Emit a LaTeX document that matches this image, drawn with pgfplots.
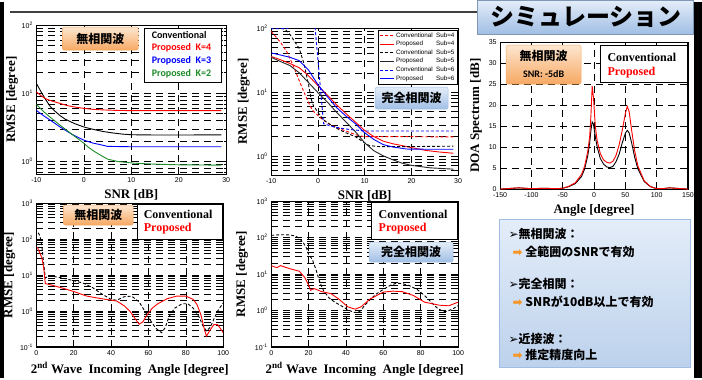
\documentclass[border=0pt]{standalone}
\usepackage{pgfplots}
\pgfplotsset{compat=1.18}
\usepackage{fontspec}
\setmainfont{Liberation Serif}
\newfontfamily\lsans{Liberation Sans}
\newfontfamily\carl{Carlito}
\newfontfamily\jp{Noto Sans CJK JP}
\newfontfamily\dvs{DejaVu Sans}
\definecolor{myred}{RGB}{255,0,0}
\definecolor{mygreen}{RGB}{30,140,40}
\definecolor{myblue}{RGB}{0,0,255}
\definecolor{orT}{RGB}{253,230,208}
\definecolor{orB}{RGB}{247,168,98}
\definecolor{blT}{RGB}{228,237,249}
\definecolor{blB}{RGB}{160,190,228}
\definecolor{arrowor}{RGB}{246,150,40}
\pgfplotsset{
  mystyle/.style={scale only axis, axis line style={line width=1.1pt},
    tick style={black, line width=0.6pt}, major tick length=3pt, minor tick length=2pt,
    tick label style={font=\lsans\fontsize{7}{8}\selectfont},
    /pgf/number format/assume math mode=true,
    grid style={black, line width=0.6pt, dash pattern=on 7pt off 5pt},
    minor grid style={black, line width=0.6pt, dash pattern=on 7pt off 5pt},
    label style={font=\bfseries\fontsize{13}{14}\selectfont},
    every axis plot/.append style={line width=0.9pt, mark=none}},
}
\begin{document}
\begin{tikzpicture}
\begin{scope}[x=1pt,y=1pt]
\fill[white] (0,0) rectangle (702,376);
\useasboundingbox (0,0) rectangle (702,376);
\fill[black] (0,0) rectangle (4,376);
\fill[black] (694,0) rectangle (702,376);
\draw[line width=2pt, black!75] (10,366) -- (477,366);
\end{scope}

% Panel 1
\begin{axis}[mystyle, ymode=log, ymajorgrids, yminorgrids, xmajorgrids, at={(36pt,204pt)}, anchor=south west, width=190pt, height=149pt,
  xmin=-10, xmax=30, ymin=0.65, ymax=100, xtick={-10,0,10,20,30},
  ytick={1,10,100}, yticklabels={10\textsuperscript{0},10\textsuperscript{1},10\textsuperscript{2}},
  minor ytick={0.7,0.8,0.9,2,3,4,5,6,7,8,9,20,30,40,50,60,70,80,90},
  xlabel={SNR [dB]}, ylabel={RMSE [degree]}, ylabel style={yshift=-3pt}]
\addplot[black] coordinates {(-10,14) (-9,10.5) (-8,8) (-7,6.3) (-6,5.4) (-5,4.7) (-4,4.2) (-2,3.6) (0,3.2) (2,2.95) (4,2.75) (6,2.62) (8,2.52) (10,2.46) (15,2.44) (20,2.44) (29,2.45)};
\addplot[myred] coordinates {(-10,10.5) (-9,9.2) (-8,8.3) (-7,7.8) (-5,7.1) (-3.5,6.6) (-2,6.3) (0,6.0) (2,5.8) (4,5.7) (7,5.6) (10,5.56) (20,5.56) (29,5.56)};
\addplot[myblue] coordinates {(-10,5.6) (-8.5,4.7) (-7,4.0) (-5,3.2) (-2.5,2.5) (0,2.05) (2,1.85) (3.5,1.76) (5,1.66) (10,1.64) (20,1.64) (29,1.64)};
\addplot[mygreen] coordinates {(-10,6.9) (-8.5,5.4) (-7,4.4) (-5,3.4) (-2.5,2.5) (0,1.85) (1,1.6) (2.5,1.36) (4,1.18) (5,1.08) (7,1.0) (10.6,0.94) (15,0.91) (20,0.89) (29,0.88)};
\end{axis}

% Panel 2
\begin{axis}[mystyle, ymode=log, ymajorgrids, yminorgrids, xmajorgrids, at={(271pt,203pt)}, anchor=south west, width=187pt, height=147pt,
  xmin=-10, xmax=30, ymin=0.5, ymax=100, xtick={-10,0,10,20,30},
  ytick={1,10,100}, yticklabels={10\textsuperscript{0},10\textsuperscript{1},10\textsuperscript{2}},
  minor ytick={0.6,0.7,0.8,0.9,2,3,4,5,6,7,8,9,20,30,40,50,60,70,80,90},
  xlabel={SNR [dB]}, ylabel={RMSE [degree]},
  legend style={at={(0.997,0.99)}, anchor=north east, font=\lsans\fontsize{6.3}{7}\selectfont, inner sep=0.8pt, row sep=-1.5pt, draw=black, line width=0.6pt},
  legend cell align=left,
  legend image code/.code={\draw[#1, line width=0.9pt] (0pt,0pt) -- (14pt,0pt);}]
\addplot[myred, dash pattern=on 3pt off 2pt] coordinates {(-10,89) (-8,60) (-6.6,42) (-5,23) (-4,15) (-3,10) (-2,6.8) (-1.2,5.2) (0,4.3) (1,3.7) (2,3.3) (3,3.0) (4,2.8) (5,2.6) (6,2.45) (7,2.3) (8,2.15) (9,2.06) (10,2.0) (20,2.0) (29,1.98)};
\addlegendentry{\makebox[40pt][l]{Conventional}Sub=4}
\addplot[myred] coordinates {(-10,36) (-8,32) (-6,28) (-4,24) (-2,18) (0,12.6) (2,9) (4,6.3) (6,4.6) (8,3.4) (10,2.5) (12,2.0) (14,1.7) (16,1.55) (18,1.45) (20,1.35) (23,1.22) (26,1.15) (29,1.1)};
\addlegendentry{\makebox[40pt][l]{Proposed}Sub=4}
\addplot[black, dash pattern=on 3pt off 2pt] coordinates {(-10,100) (-8,100) (-7,96) (-6,80) (-5,62) (-4,48) (-3,28) (-2,13) (-1.5,8) (-1,6.2) (0,4.8) (1,3.8) (2,3.3) (4,2.7) (6,2.3) (8,2.0) (10,1.6) (11,1.45) (13,1.4) (20,1.4) (29,1.42)};
\addlegendentry{\makebox[40pt][l]{Conventional}Sub=5}
\addplot[black!85] coordinates {(-10,35) (-8,30) (-6,26) (-4,20) (-2,14) (0,9.8) (2,7) (4,4.8) (6,3.4) (8,2.4) (10,1.6) (12,1.2) (14,1.0) (16,0.87) (18,0.77) (20,0.71) (24,0.65) (29,0.62)};
\addlegendentry{\makebox[40pt][l]{Proposed}Sub=5}
\addplot[myblue, dash pattern=on 3pt off 2pt] coordinates {(-10,98) (-8,98) (-6,101) (-5,110) (-1,110) (-0.6,100) (1.2,3.2) (3,2.9) (5,2.7) (7,2.58) (9,2.5) (10,2.45) (20,2.45) (29,2.45)};
\addlegendentry{\makebox[40pt][l]{Conventional}Sub=6}
\addplot[myblue] coordinates {(-10,41) (-8,38) (-6,35) (-4,31) (-2,22) (0,13) (2,8.5) (4,5.7) (6,4.2) (8,3.2) (10,2.3) (12,1.8) (14,1.5) (16,1.38) (19,1.28) (24,1.27) (29,1.27)};
\addlegendentry{\makebox[40pt][l]{Proposed}Sub=6}
\end{axis}

% Panel 3
\begin{axis}[mystyle, ymode=log, ymajorgrids, yminorgrids, xmajorgrids, at={(36pt,31pt)}, anchor=south west, width=187pt, height=144pt,
  xmin=0, xmax=100, ymin=0.1, ymax=1000, xtick={0,20,40,60,80,100},
  ytick={0.1,1,10,100,1000}, yticklabels={10\textsuperscript{-1},10\textsuperscript{0},10\textsuperscript{1},10\textsuperscript{2},10\textsuperscript{3}},
  minor ytick={0.2,0.3,0.4,0.5,0.6,0.7,0.8,0.9,2,3,4,5,6,7,8,9,20,30,40,50,60,70,80,90,200,300,400,500,600,700,800,900},
  xlabel={2\textsuperscript{nd} Wave\ \ Incoming\ \ Angle [degree]}, ylabel={RMSE [degree]}, ylabel style={yshift=-2pt}]
\addplot[black, dash pattern=on 3pt off 2pt] coordinates {(1,150) (2,120) (3,60) (4,20) (4.8,8.3) (7,9.5) (12,8.7) (20,7) (25,6) (30,4.5) (35,3) (40,2.1) (43,2.0) (47,2.5) (51,2.6) (55,1.8) (58,1.0) (61,0.55) (64,0.33) (67,0.25) (69,0.35) (71,0.7) (74,1.2) (78,1.6) (81,1.6) (84,1.2) (87,0.7) (89,0.4) (91,0.28) (93,0.35) (95,0.6) (97,1.0) (100,1.7)};
\addplot[myred] coordinates {(0.5,60) (2,40) (3,30) (4,15) (4.8,5.8) (8,5.3) (11,4.8) (15,4.2) (20,3.5) (27,2.6) (35,2.2) (43,1.9) (47,1.4) (50,1.0) (53,0.6) (55,0.43) (57,0.5) (59,0.75) (62,1.2) (65,1.6) (70,2.2) (75,2.6) (80,2.6) (84,2.1) (86,1.5) (88,0.8) (90,0.3) (91,0.2) (93,0.3) (95,0.42) (97,0.42) (99,0.3) (100,0.25)};
\end{axis}

% Panel 4
\begin{axis}[mystyle, ymode=log, ymajorgrids, yminorgrids, xmajorgrids, at={(271pt,31pt)}, anchor=south west, width=187pt, height=146pt,
  xmin=0, xmax=100, ymin=0.1, ymax=1000, xtick={0,20,40,60,80,100},
  ytick={0.1,1,10,100,1000}, yticklabels={10\textsuperscript{-1},10\textsuperscript{0},10\textsuperscript{1},10\textsuperscript{2},10\textsuperscript{3}},
  minor ytick={0.2,0.3,0.4,0.5,0.6,0.7,0.8,0.9,2,3,4,5,6,7,8,9,20,30,40,50,60,70,80,90,200,300,400,500,600,700,800,900},
  xlabel={2\textsuperscript{nd} Wave\ \ Incoming\ \ Angle [degree]}, ylabel={RMSE [degree]}]
\addplot[black, dash pattern=on 3pt off 2pt] coordinates {(0,115) (5,120) (10,118) (13,110) (15,95) (17,75) (19,50) (20,35) (22,25) (24,13) (26,6) (28,3.5) (31,2.2) (34,1.7) (38,1.3) (41,1.05) (44,0.9) (46,0.88) (48,1.0) (50,1.4) (53,2.0) (56,2.8) (60,3.8) (64,5.0) (67,5.6) (70,5.5) (74,4.8) (78,3.8) (82,2.6) (86,1.6) (89,1.15) (92,0.95) (94,0.95) (97,1.1) (100,1.35)};
\addplot[myred] coordinates {(0,17) (3,15) (5,17) (10,14) (15,12) (18,8) (20,5) (21,3.6) (23,4) (27,3.3) (32,2.9) (36,2.1) (41,1.26) (45,1.09) (48,1.26) (53,2.1) (60,3.2) (65,3.4) (70,3.3) (76,2.6) (82,1.7) (90,1.4) (95,1.35) (100,1.7)};
\end{axis}

% Panel 5
\begin{axis}[mystyle, at={(500pt,189pt)}, anchor=south west, width=188pt, height=147pt,
  xmin=-150, xmax=150, ymin=0, ymax=35, xtick={-150,-100,...,150}, ytick={0,5,...,35},
  xmajorgrids, ymajorgrids,
  xlabel={Angle [degree]}, ylabel={DOA Spectrum [dB]}]
\addplot[black] coordinates {(-150,0) (-140,0.1) (-120,0.3) (-100,0.1) (-80,0.2) (-60,0.1) (-50,0.2) (-40,0.6) (-30,1.3) (-20,3) (-15,4.8) (-10,8) (-7,11) (-5,14) (-3,16) (-1,15.5) (2,12.5) (5,10) (10,7.3) (15,6) (20,5.3) (25,5.1) (30,5.4) (35,6.5) (40,8.3) (45,11) (50,13.3) (53,14) (56,13.4) (60,11) (65,7.5) (70,4.8) (80,1.8) (90,0.6) (100,0.1) (110,0.1) (120,0.3) (130,0.2) (150,0)};
\addplot[myred] coordinates {(-150,0) (-140,0.1) (-120,0.3) (-100,0.1) (-80,0.2) (-60,0.1) (-50,0.2) (-40,0.7) (-30,1.5) (-20,3.5) (-15,5.5) (-10,9) (-7,12.5) (-5,17.5) (-3,24.5) (-1,22) (2,15) (5,11.5) (10,8.5) (15,7) (20,6.4) (25,6.2) (30,6.6) (35,8) (40,10.5) (45,14) (50,18) (53,19.7) (56,18.5) (60,14) (65,9) (70,5.5) (80,2) (90,0.6) (100,0.1) (110,0.1) (120,0.3) (130,0.2) (150,0)};
\end{axis}

\begin{scope}[x=1pt,y=1pt]
% panel 1 overlays
\shade[top color=orT, bottom color=orB, rounded corners=2pt, draw=orB] (62,328) rectangle (138,351);
\node[font=\jp\bfseries\fontsize{12}{14}\selectfont] at (100,339.5) {無相関波};
\draw[fill=white, line width=0.6pt] (144,296) rectangle (221,350);
\node[anchor=west, font=\carl\bfseries\fontsize{10}{12}\selectfont] at (148,343) {Conventional};
\node[anchor=west, font=\carl\bfseries\fontsize{10}{12}\selectfont, text=myred] at (148,330) {Proposed\ \ K=4};
\node[anchor=west, font=\carl\bfseries\fontsize{10}{12}\selectfont, text=myblue] at (148,317) {Proposed\ \ K=3};
\node[anchor=west, font=\carl\bfseries\fontsize{10}{12}\selectfont, text=mygreen] at (148,304) {Proposed\ \ K=2};
% panel 2
\shade[top color=blT, bottom color=blB, rounded corners=2pt, draw=blB] (375,269) rectangle (448,291);
\node[font=\jp\bfseries\fontsize{12}{14}\selectfont] at (411.5,280) {完全相関波};
% panel 3
\shade[top color=orT, bottom color=orB, rounded corners=2pt, draw=orB] (63,153) rectangle (133,173);
\node[font=\jp\bfseries\fontsize{12}{14}\selectfont] at (98,163) {無相関波};
\draw[fill=white, line width=0.6pt] (137,139) rectangle (222,174);
\node[anchor=west, font=\bfseries\fontsize{12}{14}\selectfont] at (140,164) {Conventional};
\node[anchor=west, font=\bfseries\fontsize{12}{14}\selectfont, text=myred] at (140,149) {Proposed};
% panel 4
\draw[fill=white, line width=0.6pt] (371,139) rectangle (457,176);
\node[anchor=west, font=\bfseries\fontsize{12}{14}\selectfont] at (375,164) {Conventional};
\node[anchor=west, font=\bfseries\fontsize{12}{14}\selectfont, text=myred] at (375,149) {Proposed};
\shade[top color=blT, bottom color=blB, rounded corners=2pt, draw=blB] (369,116) rectangle (453,136);
\node[font=\jp\bfseries\fontsize{12}{14}\selectfont] at (411,126) {完全相関波};
% panel 5
\shade[top color=orT, bottom color=orB, rounded corners=2pt, draw=orB] (506,294) rectangle (581,333);
\node[font=\jp\bfseries\fontsize{12}{14}\selectfont] at (543.5,322) {無相関波};
\node[font=\carl\bfseries\fontsize{10}{12}\selectfont] at (543.5,304) {SNR: -5dB};
\draw[fill=white, line width=0.6pt] (600,296) rectangle (687,333);
\node[anchor=west, font=\bfseries\fontsize{12}{14}\selectfont] at (604,321) {Conventional};
\node[anchor=west, font=\bfseries\fontsize{12}{14}\selectfont, text=myred] at (604,306) {Proposed};
% Title
\shade[top color=blT, bottom color=blB, draw=blB!80!black] (477,344) rectangle (693,378);
\node[font=\jp\bfseries\fontsize{24}{26}\selectfont] at (586,361) {シミュレーション};
% text box
\shade[top color=blT, bottom color=blB!70!white, draw=blB] (499,11) rectangle (690,159);
\begin{scope}[every node/.style={anchor=west, font=\jp\bfseries\fontsize{12}{14}\selectfont}]
\node at (505,144) {{\dvs\mdseries ➢}無相関波：};
\node at (509,126) {\textcolor{arrowor}{\dvs ➡} 全範囲のSNRで有効};
\node at (505,94) {{\dvs\mdseries ➢}完全相関：};
\node at (509,76) {\textcolor{arrowor}{\dvs ➡} SNRが10dB以上で有効};
\node at (505,39) {{\dvs\mdseries ➢}近接波：};
\node at (509,23) {\textcolor{arrowor}{\dvs ➡} 推定精度向上};
\end{scope}
\end{scope}
\end{tikzpicture}
\end{document}
